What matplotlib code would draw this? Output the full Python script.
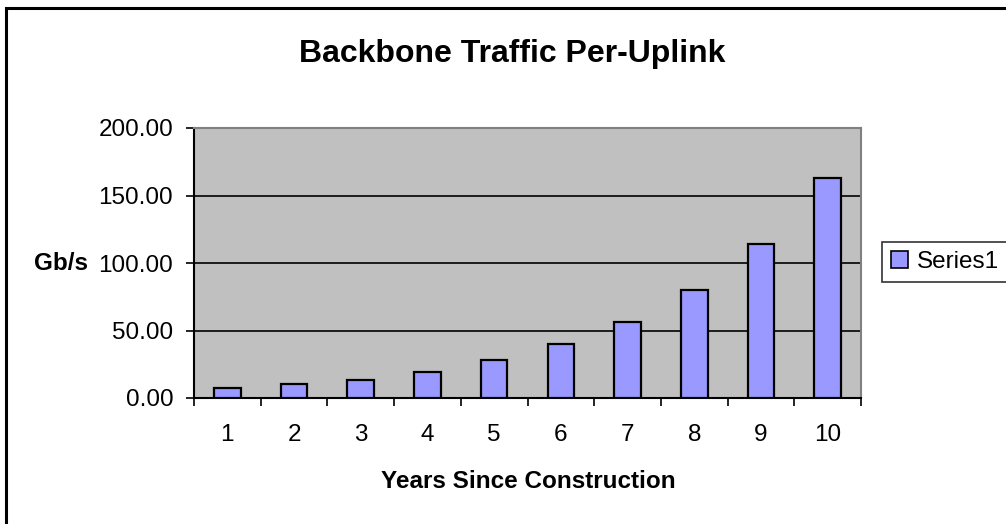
import matplotlib
matplotlib.use("Agg")
import matplotlib.pyplot as plt
from matplotlib.patches import Patch, Rectangle

# data
years = [1, 2, 3, 4, 5, 6, 7, 8, 9, 10]
traffic_gbps = [7.3, 10.3, 13.4, 19.3, 28.2, 40.0, 56.4, 80.0, 114.2, 163.2]
y_ticks = [0, 50, 100, 150, 200]

W, H = 1006, 524
plt.rcParams["font.family"] = ["Liberation Sans", "DejaVu Sans"]

fig = plt.figure(figsize=(W / 100, H / 100), dpi=100)
fig.patch.set_facecolor("white")

# chart border (only left/top visible, the rest runs off the image)
fig.patches.append(Rectangle((6 / W, -0.05), 1.2, 1 - 8 / H + 0.05,
                             transform=fig.transFigure, fill=False,
                             edgecolor="black", linewidth=2.2))

ax = fig.add_axes([194 / W, 1 - 398 / H, (861 - 194) / W, (398 - 128) / H])
ax.set_facecolor("#c0c0c0")
ax.bar(years, traffic_gbps, width=0.4, color="#9999ff",
       edgecolor="black", linewidth=1.6, zorder=3, label="Series1")

ax.set_xlim(0.5, 10.5)
ax.set_ylim(0, 200)
ax.set_yticks(y_ticks)
ax.set_yticklabels([f"{v:.2f}" for v in y_ticks])
ax.yaxis.grid(True, color="black", linewidth=1.2, zorder=1)
ax.set_axisbelow(True)

ax.set_xticks(years)
ax.set_xticklabels([str(y) for y in years])
ax.set_xticks([y - 0.5 for y in years] + [10.5], minor=True)
ax.tick_params(axis="x", which="major", length=0, pad=19, labelsize=17.5)
ax.tick_params(axis="x", which="minor", length=6, width=1.2, direction="out")
ax.tick_params(axis="y", length=6, width=1.2, pad=9, labelsize=17.5)

for side in ("left", "bottom"):
    ax.spines[side].set_color("black")
    ax.spines[side].set_linewidth(1.5)
for side in ("top", "right"):
    ax.spines[side].set_color("#808080")
    ax.spines[side].set_linewidth(1.5)

fig.text(512 / W, 1 - 54 / H, "Backbone Traffic Per-Uplink",
         ha="center", va="center", fontsize=23, fontweight="bold")
fig.text(528 / W, 1 - 482 / H, "Years Since Construction",
         ha="center", va="center", fontsize=17.5, fontweight="bold")
fig.text(61 / W, 1 - 263 / H, "Gb/s",
         ha="center", va="center", fontsize=17.5, fontweight="bold")

handle = Patch(facecolor="#9999ff", edgecolor="black", linewidth=1.2)
leg = fig.legend([handle], ["Series1"], loc="center left",
                 bbox_to_anchor=(882 / W, 1 - 262 / H), fontsize=17.5,
                 frameon=True, fancybox=False, edgecolor="black",
                 handlelength=0.7, handleheight=0.7, handletextpad=0.4,
                 borderpad=0.35, borderaxespad=0)
leg.get_frame().set_linewidth(1.2)

fig.savefig("out.png", dpi=100)
